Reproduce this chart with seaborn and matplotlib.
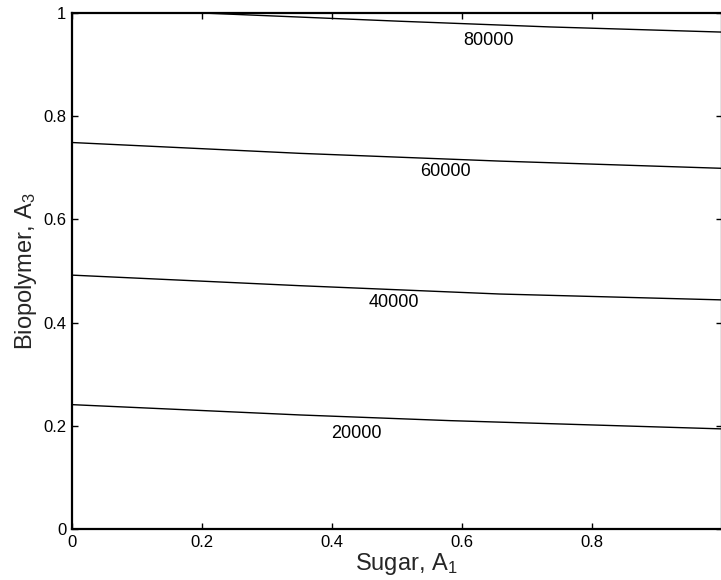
import matplotlib
matplotlib.use("Agg")
import matplotlib.pyplot as plt
import seaborn as sns
import pandas as pd

# Contour levels and the points
levels = [20000, 40000, 60000, 80000]
x_20000 = [0.0, 0.351, 0.582, 1.0]
y_20000 = [0.241, 0.221, 0.210, 0.194]
x_40000 = [0.0, 0.351, 0.658, 1.0]
y_40000 = [0.492, 0.4715, 0.4554, 0.444]
x_60000 = [0.0, 0.351, 0.658, 1.0]
y_60000 = [0.749, 0.728, 0.713, 0.699]
x_80000 = [0.0, 0.2, 0.505, 0.735, 1.0]
y_80000 = [1.006, 1.0, 0.984, 0.973, 0.963]

x_ticks = [0, 0.2, 0.4, 0.6, 0.8]
x_tick_labels = ["0", "0.2", "0.4", "0.6", "0.8"]
y_ticks = [0, 0.2, 0.4, 0.6, 0.8, 1.0]
y_tick_labels = ["0", "0.2", "0.4", "0.6", "0.8", "1"]

rows = []
for lvl, xs, ys in [(20000, x_20000, y_20000), (40000, x_40000, y_40000),
                    (60000, x_60000, y_60000), (80000, x_80000, y_80000)]:
    for i, (xv, yv) in enumerate(zip(xs, ys)):
        rows.append({"level": lvl, "x": xv, "y": yv, "order": i})
df = pd.DataFrame(rows)

sns.set_style("ticks")
plt.rcParams['font.family'] = ['Liberation Sans', 'DejaVu Sans']
plt.rcParams['mathtext.default'] = 'regular'

fig = plt.figure(figsize=(7.21, 5.80), dpi=100)
ax = fig.add_axes([72 / 721, 51 / 580, 650 / 721, 516 / 580])

for lvl in levels:
    sub = df[df["level"] == lvl].sort_values("order")
    sns.lineplot(data=sub, x="x", y="y", sort=False, ax=ax, color="black",
                 linewidth=1.0, estimator=None, legend=False)

# contour labels (placed just below each line)
label_pos = {80000: (0.640, 0.947), 60000: (0.574, 0.692),
             40000: (0.495, 0.438), 20000: (0.438, 0.186)}
for lvl in levels:
    lx, ly = label_pos[lvl]
    ax.text(lx, ly, str(lvl), ha="center", va="center", fontsize=13, color="black")

ax.set_xlim(0, 1)
ax.set_ylim(0, 1)
ax.set_xticks(x_ticks)
ax.set_xticklabels(x_tick_labels)
ax.set_yticks(y_ticks)
ax.set_yticklabels(y_tick_labels)
ax.tick_params(direction="in", length=4, width=1, labelsize=12, top=True, right=True,
               colors="black", pad=4)
for side in ["left", "bottom", "top", "right"]:
    ax.spines[side].set_visible(True)
    ax.spines[side].set_linewidth(1.6)
    ax.spines[side].set_color("black")

ax.set_xlabel("Sugar, A$_1$", fontsize=17, labelpad=1, x=0.514)
ax.set_ylabel("Biopolymer, A$_3$", fontsize=17, labelpad=3)

fig.savefig("out.png", dpi=100)
